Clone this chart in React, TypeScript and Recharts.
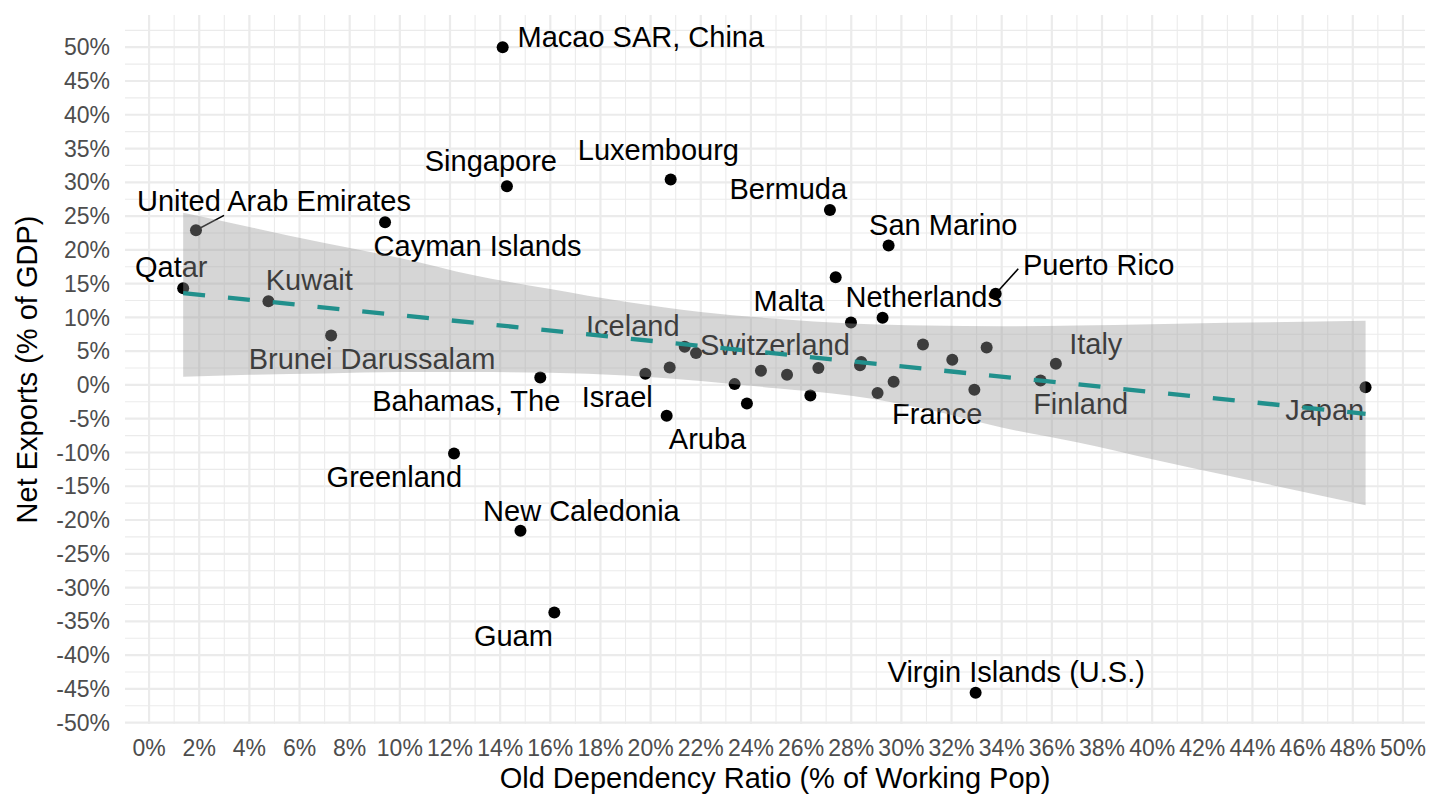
import React from 'react';
import {
  ComposedChart,
  Scatter,
  Area,
  Line,
  XAxis,
  YAxis,
  CartesianGrid,
  ReferenceLine,
  Label,
} from 'recharts';

const FONT = '"Liberation Sans", Arial, Helvetica, sans-serif';

// Old dependency ratio (% of working pop) and net exports (% of GDP) per country
const dependencyRatio = [
  1.36, 1.87, 4.76, 7.26, 9.41, 12.16, 14.1, 14.27, 14.81, 15.6, 16.16, 19.79, 20.64, 20.76,
  20.8, 21.36, 21.81, 23.35, 23.84, 24.4, 25.44, 26.37, 26.69, 27.15, 27.38, 27.99, 28.4, 28.35,
  29.05, 29.25, 29.49, 29.69, 30.86, 32.03, 32.91, 32.96, 33.4, 33.76, 35.55, 36.16, 48.51,
];
const netExports = [
  14.3, 22.9, 12.4, 7.33, 24.1, -10.14, 50.0, 29.4, -21.6, 1.11, -33.7, 1.66, -4.56, 2.59,
  30.4, 5.65, 4.71, 0.12, -2.74, 2.1, 1.51, -1.55, 2.49, 25.9, 15.96, 9.25, 3.4, 2.9,
  -1.21, 9.95, 20.65, 0.47, 6.0, 3.73, -0.72, -45.57, 5.55, 13.5, 0.67, 3.13, -0.33,
];

// Repelled label anchors (label centre, in data units)
const labelNames = [
  'Macao SAR, China', 'Singapore', 'Luxembourg', 'Bermuda', 'United Arab Emirates',
  'Cayman Islands', 'Qatar', 'Kuwait', 'Brunei Darussalam', 'Bahamas, The', 'Israel',
  'Greenland', 'Aruba', 'Iceland', 'Switzerland', 'Malta', 'Netherlands', 'San Marino',
  'Puerto Rico', 'France', 'Finland', 'Italy', 'Japan', 'New Caledonia', 'Guam',
  'Virgin Islands (U.S.)',
];
const labelX = [
  19.61, 13.63, 20.31, 25.49, 4.98, 13.1, 0.885, 6.39, 8.89, 12.65, 18.67, 9.78, 22.27,
  19.29, 24.96, 25.52, 30.89, 31.67, 37.87, 31.43, 37.15, 37.75, 46.88, 17.24, 14.53, 34.58,
];
const labelY = [
  51.6, 33.24, 34.9, 29.05, 27.27, 20.58, 17.44, 15.58, 3.88, -2.4, -1.75, -13.6, -7.92,
  8.74, 5.97, 12.41, 13.0, 23.69, 17.81, -4.19, -2.74, 6.14, -3.6, -18.58, -37.09, -42.46,
];

// Leader segments (from point to label)
const leaderFromX = [1.87, 33.76];
const leaderFromY = [22.9, 13.5];
const leaderToX = [2.99, 34.66];
const leaderToY = [25.1, 17.2];

// Linear fit and its confidence band
const fitX = [1.36, 48.51];
const fitY = [13.6, -4.27];
const bandX = [1.36, 4, 7, 10, 13, 16, 19, 22, 25, 28, 31, 34, 37, 40, 43, 46, 48.51];
const bandHigh = [25.5, 23.4, 21.0, 18.8, 16.2, 14.2, 12.3, 10.8, 9.8, 9.1, 8.8, 8.7, 8.8, 9.0, 9.2, 9.35, 9.5];
const bandLow = [1.2, 1.5, 1.7, 1.9, 1.9, 1.8, 1.4, 0.6, -0.5, -1.6, -3.6, -6.3, -8.5, -11.0, -13.4, -15.8, -17.8];

// Ticks and grid values
const xTicks = [0, 2, 4, 6, 8, 10, 12, 14, 16, 18, 20, 22, 24, 26, 28, 30, 32, 34, 36, 38, 40, 42, 44, 46, 48, 50];
const xMinor = [1, 3, 5, 7, 9, 11, 13, 15, 17, 19, 21, 23, 25, 27, 29, 31, 33, 35, 37, 39, 41, 43, 45, 47, 49];
const yTicks = [-50, -45, -40, -35, -30, -25, -20, -15, -10, -5, 0, 5, 10, 15, 20, 25, 30, 35, 40, 45, 50];
const yMinor = [-47.5, -42.5, -37.5, -32.5, -27.5, -22.5, -17.5, -12.5, -7.5, -2.5, 2.5, 7.5, 12.5, 17.5, 22.5, 27.5, 32.5, 37.5, 42.5, 47.5, 52.5];

const X_DOMAIN: [number, number] = [-0.96, 50.88];
const Y_DOMAIN: [number, number] = [-50.2, 54.77];

const pointData = dependencyRatio.map((x, i) => ({ x, y: netExports[i] }));
const labelData = labelNames.map((name, i) => ({ x: labelX[i], y: labelY[i], name }));
const fitData = fitX.map((x, i) => ({ x, fit: fitY[i] }));
const bandData = bandX.map((x, i) => ({ x, band: [bandLow[i], bandHigh[i]] }));

const Dot = (props: any) => {
  const { cx, cy } = props;
  if (cx == null || cy == null) return null;
  return <circle cx={cx} cy={cy} r={6} fill="#000000" />;
};

const LabelText = (props: any) => {
  const { cx, cy, payload } = props;
  if (cx == null || cy == null) return null;
  return (
    <text
      x={cx}
      y={cy}
      dy="0.355em"
      textAnchor="middle"
      fontSize={29}
      fontFamily={FONT}
      fill="#000000"
    >
      {payload?.name}
    </text>
  );
};

const XTitle = (props: any) => {
  const vb = props.viewBox || { x: 125, y: 724, width: 1300, height: 86 };
  return (
    <text
      x={vb.x + vb.width / 2}
      y={vb.y + vb.height - 22}
      textAnchor="middle"
      fontSize={29}
      fontFamily={FONT}
      fill="#000000"
    >
      Old Dependency Ratio (% of Working Pop)
    </text>
  );
};

const YTitle = (props: any) => {
  const vb = props.viewBox || { x: 0, y: 15, width: 125, height: 709 };
  const cx = vb.x + 27;
  const cy = vb.y + vb.height / 2;
  return (
    <text
      x={cx}
      y={cy}
      dy="0.355em"
      textAnchor="middle"
      fontSize={29}
      fontFamily={FONT}
      fill="#000000"
      transform={`rotate(-90, ${cx}, ${cy})`}
    >
      Net Exports (% of GDP)
    </text>
  );
};

export default function App() {
  return (
    <div style={{ position: 'absolute', left: 0, top: 0, width: 1440, height: 810, background: '#ffffff' }}>
      <ComposedChart width={1440} height={810} margin={{ top: 15, right: 15, bottom: 0, left: 0 }}>
        <CartesianGrid
          stroke="#ebebeb"
          strokeWidth={1.1}
          horizontalValues={yMinor}
          verticalValues={xMinor}
        />
        <CartesianGrid
          stroke="#ebebeb"
          strokeWidth={2.2}
          horizontalValues={yTicks}
          verticalValues={xTicks}
        />
        <XAxis
          type="number"
          dataKey="x"
          domain={X_DOMAIN}
          allowDataOverflow
          ticks={xTicks}
          interval={0}
          tickFormatter={(v: number) => `${v}%`}
          tick={{ fill: '#4d4d4d', fontSize: 23, fontFamily: FONT }}
          tickLine={false}
          axisLine={false}
          tickSize={0}
          tickMargin={16}
          height={86}
        >
          <Label content={<XTitle />} />
        </XAxis>
        <YAxis
          type="number"
          dataKey="y"
          domain={Y_DOMAIN}
          allowDataOverflow
          ticks={yTicks}
          interval={0}
          tickFormatter={(v: number) => `${v}%`}
          tick={{ fill: '#4d4d4d', fontSize: 23, fontFamily: FONT }}
          tickLine={false}
          axisLine={false}
          tickSize={0}
          tickMargin={15}
          width={125}
        >
          <Label content={<YTitle />} />
        </YAxis>

        <Scatter data={pointData} shape={<Dot />} isAnimationActive={false} zIndex={600} />
        <Scatter data={labelData} shape={<LabelText />} isAnimationActive={false} zIndex={610} />
        {leaderFromX.map((fx, i) => (
          <ReferenceLine
            key={`seg-${i}`}
            segment={[
              { x: fx, y: leaderFromY[i] },
              { x: leaderToX[i], y: leaderToY[i] },
            ]}
            stroke="#000000"
            strokeWidth={1.6}
            zIndex={620}
          />
        ))}
        <Area
          data={bandData}
          dataKey="band"
          type="monotone"
          fill="#999999"
          fillOpacity={0.4}
          stroke="none"
          isAnimationActive={false}
          zIndex={700}
        />
        <Line
          data={fitData}
          dataKey="fit"
          type="linear"
          stroke="#21908c"
          strokeWidth={4.3}
          strokeDasharray="22 23"
          dot={false}
          activeDot={false}
          isAnimationActive={false}
          zIndex={800}
        />
      </ComposedChart>
    </div>
  );
}
